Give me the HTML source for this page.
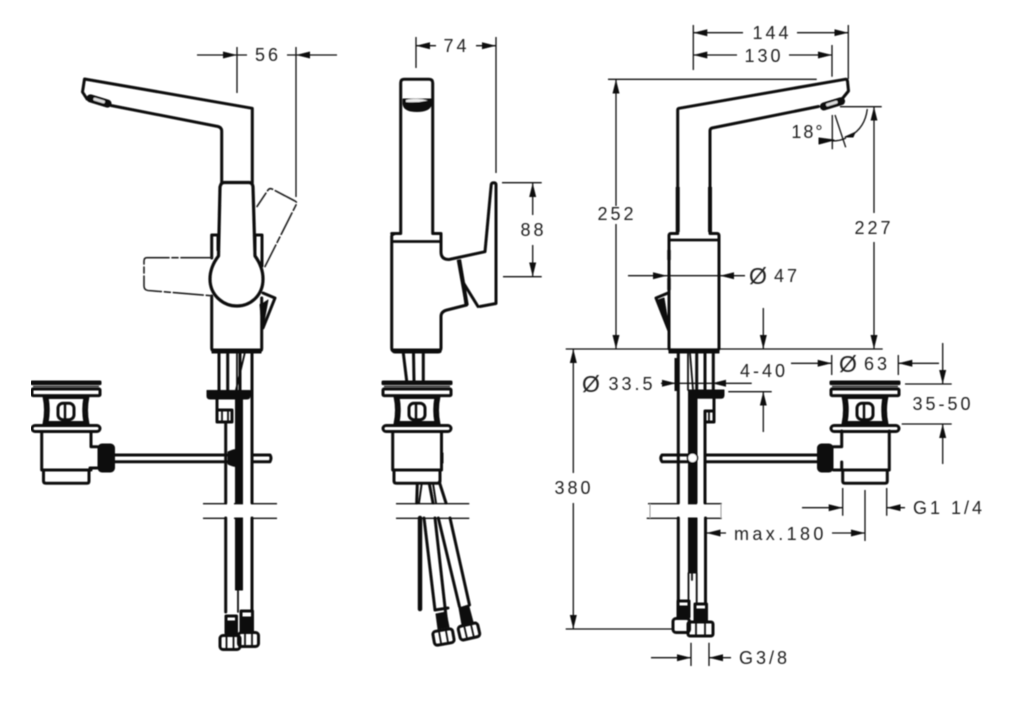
<!DOCTYPE html>
<html><head><meta charset="utf-8"><style>
html,body{margin:0;padding:0;background:#fff}
svg{display:block}
text{font-family:"Liberation Sans",sans-serif;font-size:18px;letter-spacing:3px;fill:#222;text-anchor:middle;dominant-baseline:central}
text.o{font-size:23px;letter-spacing:0}
.m{fill:none;stroke:#111;stroke-width:3;stroke-linejoin:round;stroke-linecap:round}
.t{fill:none;stroke:#111;stroke-width:1.8;stroke-linecap:round;stroke-linejoin:round}
.d{fill:none;stroke:#111;stroke-width:1.3}
.b{fill:#111;stroke:#111;stroke-linejoin:round}
.da{fill:none;stroke:#222;stroke-width:1.6;stroke-linecap:round;stroke-linejoin:round}
</style></head><body>
<svg width="1024" height="701" viewBox="0 0 1024 701" xmlns="http://www.w3.org/2000/svg">
<defs>
<marker id="a" markerUnits="userSpaceOnUse" markerWidth="16" markerHeight="10" refX="14" refY="5" orient="auto"><path d="M0 1.5L14 5L0 8.5Z" fill="#111"/></marker>
<filter id="bl" x="0" y="0" width="100%" height="100%"><feGaussianBlur stdDeviation="0.4"/></filter>
<g id="dt">
<rect class="b" x="-35" y="381" width="70" height="3.6" rx="1" stroke-width="1"/>
<rect class="m" x="-34" y="389" width="68" height="6.6" rx="1"/>
<line class="d" x1="-33" y1="386.5" x2="33" y2="386.5"/>
<path class="m" d="M-22 396.5Q-19 410 -22 424M22 396.5Q19 410 22 424M-20 397.5H20M-20 422.5H20"/>
<path class="m" d="M-19 397Q-16.5 410 -19 423M19 397Q16.5 410 19 423"/>
<rect class="m" x="-8" y="403.2" width="16" height="16.5" rx="5"/>
<line x1="-1" y1="403" x2="-1" y2="420" stroke="#111" stroke-width="2.5"/>
<rect class="m" x="-34" y="425.5" width="68" height="6" rx="3"/>
</g>
<g id="nut"><rect class="m" x="-10" y="-7" width="20" height="14" rx="3"/><path class="t" d="M-3.5 -7V7M3.5 -7V7"/></g>
</defs>
<rect width="1024" height="701" fill="#fff"/>
<g filter="url(#bl)">

<!-- LEFT FAUCET -->
<path class="m" d="M111 105.5L218 126.5Q221.7 127.5 221.7 131V183M84.5 79L252.3 108.3V183M84.5 79L82.5 92L87 99"/>
<rect class="b" x="86.5" y="97.5" width="25" height="7" rx="3.5" transform="rotate(17 99 101)" stroke-width="1"/>
<rect x="93" y="99" width="12" height="3" rx="1.5" transform="rotate(17 99 101)" fill="#ddd"/>
<path class="m" style="stroke-width:3.2" d="M220 187Q221 182.5 224 182.5H249Q252.5 182.5 253 187L255 256Q263 267 263 279C263 296 250 306 237 306C224 306 210 296 210 279Q210 267 218.5 256Z"/>
<path class="m" d="M211.7 258V235H218V250M262 266V235H255V250M211.7 296V348.5Q212 351 214 351H259Q261.7 351 261.7 348.5V298"/>
<path class="da" stroke-dasharray="30 3 6 3" d="M211 257.7H147Q144 257.7 144 261V286Q144 290 148 290.5L211 295.7"/>
<path class="da" stroke-dasharray="24 3 6 3" d="M265 266.5L296.5 204Q297.5 202 294 200.5L273 189.5Q270 187.5 268 190L257 206.5"/>
<path class="m" d="M263 293L275 298L263 328L261 305"/>
<path class="b" d="M262 304L268 300L263 327Z"/>
<!-- left tubes -->
<rect class="b" x="212" y="349" width="49" height="4" stroke-width="1"/>
<path class="m" d="M219 352V390M227.7 352V390M240 352V390M252 352V503M252 518V610"/>
<path class="t" d="M237 352V390M245 352L236 390"/>
<path class="b" d="M207 390.5H250V396Q250 399 247 399H210Q207 399 207 396Z" stroke-width="1"/>
<path class="m" d="M217 399V410M217 410H232V422H217ZM225.7 422V503M225.7 518V612"/>
<path class="t" d="M222 411V422M228 411V422"/>
<rect class="b" x="235.5" y="399" width="7" height="104" stroke-width="1"/>
<rect class="b" x="235.5" y="518" width="7" height="72" stroke-width="1"/>
<path class="t" d="M238 590V612"/>
<path class="d" d="M203 503.7H227M234 503.7H243M252 503.7H277M203 518.3H226M234 518.3H243M252 518.3H277"/>
<path class="m" d="M115 455H227M115 461.7H227M252 455H270Q272 458 270 461.7H252"/>
<path class="b" d="M228 452Q236 448 242 450V466Q236 468 228 464Z" stroke-width="1"/>
<use href="#dt" x="66"/>
<path class="m" d="M41.7 431.5V470H91M91 431.5V446.7H97.5M90 470V468H97M43.5 470V481Q43.5 483.3 46 483.3H87Q89 483.3 89 481V470"/>
<rect class="b" x="98" y="444" width="16.5" height="28" rx="4" stroke-width="1"/>
<rect class="m" x="226" y="616" width="10.5" height="17"/>
<rect class="b" x="227" y="621" width="8.5" height="12" stroke-width="1"/>
<rect class="m" x="241" y="611" width="11.5" height="20"/>
<rect class="b" x="242" y="617" width="9.5" height="14" stroke-width="1"/>
<use href="#nut" x="230" y="642.5"/>
<use href="#nut" x="248.5" y="639.5"/>

<!-- dim 56 -->
<path class="d" d="M237 47V93M296 47V197"/>
<line class="d" x1="197" y1="55" x2="237" y2="55" marker-end="url(#a)"/>
<line class="d" x1="337" y1="55" x2="296" y2="55" marker-end="url(#a)"/>
<path class="d" d="M237 55H247M296 55H287"/>
<text x="268" y="55">56</text>

<!-- MIDDLE FAUCET -->
<path class="m" d="M400.7 233V83Q400.7 79.3 404 79.3H429Q432.7 79.3 432.7 83V233M391.7 233.5H400.7M432.7 233.5H441M391.7 236V348Q391.7 351 394 351H438Q441 351 441 348V316.5Q441 311.5 447 310L466.7 305M391.7 237Q391.7 234 394 234M441 234V252Q441 259.5 449 259.5L485 251.7L491.2 185Q491.5 182.7 493.5 182.7H494Q496 182.7 496 185V303.5L480 306.5"/>
<line x1="392" y1="241.5" x2="441" y2="241.5" stroke="#111" stroke-width="2.8"/>
<path class="b" d="M403 99H431.5V104Q430 111.5 417 111.5Q404 111.5 403 104Z" stroke-width="1"/>
<path d="M406 100Q417 97.5 428 100.5Q417 103 406 102Z" fill="#eee"/>
<path class="b" d="M457.5 260.5L460.5 260L468 304.5L465.5 305Z" stroke-width="1.4"/>
<path class="m" d="M463.5 283L478 306.5M463.5 285L466 305"/>
<path class="b" d="M392 349H441V352Q440 353 438 353H395Q392 353 392 350Z" stroke-width="1"/>
<path class="m" d="M403.3 353L406.7 381M413.5 353L414 381M423.3 353V381"/>
<use href="#dt" x="417"/>
<path class="m" d="M392.7 431.5V470H441.5V431.5M394 470V481Q394 483.3 396.5 483.3H438Q440 483.3 440 481V470"/>
<path class="b" d="M441 453V463H443V453Z" stroke-width="1"/>
<path class="m" d="M417.3 483.5L416.7 503M429.3 483.5L433 503M439.3 482L446 503"/>
<path class="m" d="M421.7 483.5L419 503M433 483.5L436 503" style="stroke-width:2"/>
<path class="d" d="M396 503.7H469.3M396 518.3H469.3"/>
<path d="M420 518V609" stroke="#111" stroke-width="4.5" stroke-linecap="round" fill="none"/>
<path class="m" d="M424 518L435 610M435 518L447 625M438.3 518L459.5 606.7M450 518L469.5 605"/>
<path class="m" d="M435 610L448 608"/>
<path class="b" d="M436 614L446 612L449 627L438 629Z" stroke-width="1"/>
<path class="b" d="M459 608L468.5 605L473 622L462 625Z" stroke-width="1"/>
<use href="#nut" transform="translate(443.5 637) rotate(-10)"/>
<use href="#nut" transform="translate(469 631.5) rotate(-13)"/>

<!-- dim 74 & 88 -->
<path class="d" d="M416 37V68M496 37V173"/>
<line class="d" x1="436" y1="45.7" x2="416" y2="45.7" marker-end="url(#a)"/>
<line class="d" x1="476" y1="45.7" x2="496" y2="45.7" marker-end="url(#a)"/>
<text x="456.5" y="46">74</text>
<path class="d" d="M502 182.7H541.7M503 276.7H541.7"/>
<line class="d" x1="532.7" y1="215" x2="532.7" y2="183" marker-end="url(#a)"/>
<line class="d" x1="532.7" y1="245" x2="532.7" y2="276.5" marker-end="url(#a)"/>
<text x="533.5" y="230">88</text>

<!-- RIGHT FAUCET -->
<path class="m" d="M677.7 232V110Q677.7 108.5 679 108.3L845 79.3Q847 79 847.5 81L848.5 91L842 99M818.5 106.5L712 128Q710 128.5 710 131V233M669 236Q669 233.5 671 233.5H677.7M710 233.5H717Q719 233.5 719 236V348Q719 350 717 350H671Q669 350 669 348V236"/>
<line x1="669" y1="240" x2="719" y2="240" stroke="#111" stroke-width="2.8"/>
<path d="M677.7 187V232M710 187V232" stroke="#111" stroke-width="4" fill="none"/>
<path d="M669 250V260M669 278V290" stroke="#111" stroke-width="3.5" fill="none"/>
<rect class="b" x="820" y="100.5" width="25" height="7" rx="3.5" transform="rotate(-17 832 104)" stroke-width="1"/>
<rect x="826" y="102" width="12" height="3" rx="1.5" transform="rotate(-17 832 104)" fill="#ddd"/>
<path class="m" d="M668 293L656 298L669 331"/>
<path class="b" d="M658 300L664 298L669 328Z" stroke-width="1"/>
<!-- 18 deg -->
<path class="d" d="M840 106.7H881.7M832.3 115V149.3M835 115L845.7 147.3"/>
<path d="M867.3 109Q865 128 850 136" fill="none" stroke="#111" stroke-width="1.3"/>
<path class="b" d="M855 132.5L845 137L853 137Z" stroke-width="1"/>
<path class="d" d="M832 141Q840 141 846 138"/>
<path class="b" d="M819 138L834 140L819 144Z" stroke-width="1"/>
<text x="808" y="132" style="letter-spacing:2px">18°</text>
<!-- dims top -->
<path class="d" d="M693.3 25V70M848.3 25V79M832 45V76.7M608 79.3H816.7"/>
<line class="d" x1="743" y1="32.7" x2="693.3" y2="32.7" marker-end="url(#a)"/>
<line class="d" x1="797" y1="32.7" x2="848.3" y2="32.7" marker-end="url(#a)"/>
<text x="772" y="33">144</text>
<line class="d" x1="737" y1="55" x2="693.3" y2="55" marker-end="url(#a)"/>
<line class="d" x1="789" y1="55" x2="832" y2="55" marker-end="url(#a)"/>
<text x="764" y="56">130</text>
<line class="d" x1="616" y1="206" x2="616" y2="79.5" marker-end="url(#a)"/>
<line class="d" x1="616" y1="224" x2="616" y2="349" marker-end="url(#a)"/>
<text x="617" y="214">252</text>
<line class="d" x1="874" y1="213" x2="874" y2="106.7" marker-end="url(#a)"/>
<line class="d" x1="874" y1="242" x2="874" y2="349" marker-end="url(#a)"/>
<text x="874" y="228">227</text>
<line class="d" x1="628" y1="275.7" x2="667" y2="275.7" marker-end="url(#a)"/>
<line class="d" x1="745" y1="275.7" x2="720" y2="275.7" marker-end="url(#a)"/>
<path class="d" d="M667 275.7H720"/>
<text class="o" x="758" y="276">Ø</text><text x="787" y="276">47</text>
<path class="d" d="M565.7 349H882.7"/>
<line class="d" x1="763.3" y1="308" x2="763.3" y2="349" marker-end="url(#a)"/>
<!-- right lower -->
<rect class="b" x="669" y="349" width="50" height="4" stroke-width="1"/>
<path class="m" d="M678.3 353V503M678.3 518V600M696.7 353V390M705 353V390M713.3 353V390"/>
<path d="M676 358V391" stroke="#111" stroke-width="3" fill="none"/>
<path class="t" d="M690 353L693 390M688 353V390"/>
<path class="b" d="M688.5 390H724V395Q724 398.3 721 398.3H688.5Z" stroke-width="1"/>
<rect class="b" x="688.5" y="398" width="8.5" height="105" stroke-width="1"/>
<path class="m" d="M705 411V503M705.5 518V603M705 411H714V422H705M714 398V411"/>
<path class="t" d="M709 411V422"/>
<rect class="b" x="688.5" y="518" width="8.5" height="55" stroke-width="1"/>
<path class="t" d="M688.5 573V600M696.7 573V603M692 573V580"/>
<path class="d" d="M648 503.7H679M688 503.7H697M705 503.7H721.7M646.7 518.3H679M688 518.3H697M705 518.3H721.7"/>
<path d="M650 504V518M721 504V518" stroke="#999" stroke-width="1"/>
<path class="m" d="M706.7 455H817M706.7 461.7H817M688 455H662Q659.5 458 662 461.7H688"/>
<circle cx="692.5" cy="458" r="5" fill="#fff" stroke="#111" stroke-width="1.5"/>
<use href="#dt" x="865"/>
<path class="m" d="M841.7 431V446.7H833.5M841.7 470H833.5M841.7 470H889.3V431M842.7 470V481Q842.7 483.3 845 483.3H885Q887.3 483.3 887.3 481V470M841.7 470V462"/>
<rect class="b" x="817.5" y="444" width="15.5" height="28" rx="4" stroke-width="1"/>
<rect class="m" x="678" y="601" width="11" height="16"/>
<rect class="b" x="679" y="606" width="9" height="11" stroke-width="1"/>
<rect class="m" x="695" y="604" width="11.5" height="17"/>
<rect class="b" x="696" y="609" width="9.5" height="12" stroke-width="1"/>
<rect class="m" x="673" y="618.5" width="16.5" height="14" rx="3"/>
<rect class="m" x="688" y="622" width="25" height="14" rx="2"/>
<path class="t" d="M696 622V636M705 622V636"/>
<!-- lower dims right -->
<path class="d" d="M676 383.3H751.7M565.7 629H673"/>
<line class="d" x1="661" y1="383.3" x2="676" y2="383.3" marker-end="url(#a)"/>
<line class="d" x1="726" y1="383.3" x2="712" y2="383.3" marker-end="url(#a)"/>
<text class="o" x="591" y="384">Ø</text>
<text x="632" y="384">33.5</text>
<line class="d" x1="573.3" y1="473" x2="573.3" y2="349" marker-end="url(#a)"/>
<line class="d" x1="573.3" y1="503" x2="573.3" y2="629" marker-end="url(#a)"/>
<text x="574" y="488">380</text>
<text x="764" y="371">4-40</text>
<path class="d" d="M728.3 391.7H771.7"/>
<line class="d" x1="763.3" y1="432" x2="763.3" y2="391.7" marker-end="url(#a)"/>
<path class="d" d="M831.7 355V375M898.3 355V375"/>
<line class="d" x1="791" y1="363.3" x2="831.7" y2="363.3" marker-end="url(#a)"/>
<line class="d" x1="939" y1="363.3" x2="898.3" y2="363.3" marker-end="url(#a)"/>
<text class="o" x="848" y="364">Ø</text><text x="877" y="364">63</text>
<path class="d" d="M905 384H951.7M901.7 424H951.7"/>
<line class="d" x1="942.7" y1="343" x2="942.7" y2="384" marker-end="url(#a)"/>
<line class="d" x1="942.7" y1="464" x2="942.7" y2="424" marker-end="url(#a)"/>
<text x="943" y="404">35-50</text>
<path class="d" d="M842.7 488V515.7M886.7 488V515.7M865 490V541"/>
<line class="d" x1="802" y1="507.7" x2="842.7" y2="507.7" marker-end="url(#a)"/>
<line class="d" x1="905" y1="507.7" x2="886.7" y2="507.7" marker-end="url(#a)"/>
<text x="913" y="508" style="text-anchor:start;letter-spacing:3px" xml:space="preserve">G1 1/4</text>
<text x="734" y="534" style="text-anchor:start;letter-spacing:3.4px">max.180</text>
<line class="d" x1="726" y1="533" x2="706.5" y2="533" marker-end="url(#a)"/>
<line class="d" x1="832" y1="533" x2="865" y2="533" marker-end="url(#a)"/>
<path class="d" d="M691 642.7V666M709 642.7V666"/>
<line class="d" x1="651" y1="657.7" x2="691" y2="657.7" marker-end="url(#a)"/>
<line class="d" x1="731" y1="657.7" x2="709" y2="657.7" marker-end="url(#a)"/>
<text x="739" y="658" style="text-anchor:start;letter-spacing:3px">G3/8</text>
</g>
</svg>
</body></html>
